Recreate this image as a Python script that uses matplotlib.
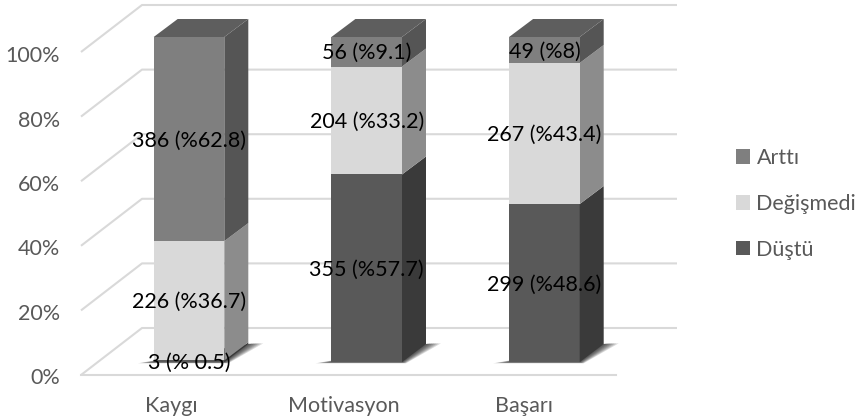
import numpy as np
import matplotlib
matplotlib.use('agg')
import matplotlib.pyplot as plt
from matplotlib.patches import Polygon, Patch

plt.rcParams['font.family'] = ['Lato', 'DejaVu Sans']

categories = ['Kaygı', 'Motivasyon', 'Başarı']
series_names = ['Düştü', 'Değişmedi', 'Arttı']
dustu = [0.5, 57.7, 48.6]
degismedi = [36.7, 33.2, 43.4]
artti = [62.8, 9.1, 8.0]
dustu_labels = ['3 (% 0.5)', '355 (%57.7)', '299 (%48.6)']
degismedi_labels = ['226 (%36.7)', '204 (%33.2)', '267 (%43.4)']
artti_labels = ['386 (%62.8)', '56 (%9.1)', '49 (%8)']
y_ticks = [0, 20, 40, 60, 80, 100]

# front, side and top colour of each series
front = ['#595959', '#d9d9d9', '#7f7f7f']
side = ['#3a3a3a', '#8c8c8c', '#555555']
top = ['#5f5f5f', '#9a9a9a', '#5e5e5e']
text_grey = '#595959'

W, H = 859, 420
x_unit = 177.7   # px between two categories
y_unit = 3.25    # px per percent
x0_px, y0_px = 189.0, 362.0


def px(v):
    return (v - x0_px) / x_unit


fig = plt.figure(figsize=(W / 100, H / 100), dpi=100)
ax = fig.add_axes([0, 0, 1, 1])
ax.set_xlim(px(0), px(W))
ax.set_ylim((y0_px - H) / y_unit, y0_px / y_unit)
ax.set_axis_off()

bar_w = 70.6 / x_unit
dx = 24 / x_unit
dy = 18 / y_unit

# floor and wall, offsets from the bar front plane
floor_y = -13 / y_unit
back_y = 34 / y_unit
grid_c = '#d9d9d9'
lw_grid = 1.5
fs = 15.5

for t in y_ticks:
    k = t * 3.23 / y_unit
    ax.plot([px(81), px(142), px(677)], [floor_y + k, back_y + k, back_y + k],
            color=grid_c, lw=lw_grid, zorder=1, solid_capstyle='butt')
    ax.text(px(60), floor_y + t * 3.215 / y_unit - 3 / y_unit, '%d%%' % t, ha='right', va='center',
            fontsize=fs, color=text_grey)
ax.plot([px(81), px(616)], [floor_y, floor_y], color=grid_c, lw=lw_grid, zorder=1)

# shadow on the floor
for i in range(len(categories)):
    l = i - bar_w / 2
    r = i + bar_w / 2
    for g in np.linspace(0, 1, 8):
        grow = (1 - g)
        pts = [(l - grow * 16 / x_unit, -0.4 * grow), (r + grow * 4 / x_unit, -0.4 * grow),
               (r + dx + grow * 15 / x_unit, dy + 0.2),
               (r + dx, dy)]
        ax.add_patch(Polygon(pts, closed=True, fc='black', ec='none', alpha=0.14, zorder=2))

values = [dustu, degismedi, artti]
labels = [dustu_labels, degismedi_labels, artti_labels]
cat_shift = [-18, -23, -20]
for i in range(len(categories)):
    l = i - bar_w / 2
    r = i + bar_w / 2
    bottom = 0
    for s in range(3):
        v = values[s][i]
        ax.bar(i, v, bottom=bottom, width=bar_w, color=front[s], zorder=3 + s * 0.01)
        b2 = bottom + v
        ax.add_patch(Polygon([(r, bottom), (r + dx, bottom + dy), (r + dx, b2 + dy), (r, b2)],
                             closed=True, fc=side[s], ec='none', zorder=3))
        if s == 2:
            ax.add_patch(Polygon([(l, b2), (l + dx, b2 + dy), (r + dx, b2 + dy), (r, b2)],
                                 closed=True, fc=top[s], ec='none', zorder=3))
        ax.text(i, bottom + v / 2 - 1.5 / y_unit, labels[s][i], ha='center', va='center', fontsize=fs,
                color='black', zorder=5)
        bottom = b2
    ax.text(i + cat_shift[i] / x_unit, -44 / y_unit, categories[i], ha='center', va='center',
            fontsize=fs, color=text_grey)

handles = [Patch(fc=front[s], ec='none', label=series_names[s]) for s in [2, 1, 0]]
leg = ax.legend(handles=handles, loc='center left', bbox_to_anchor=(736 / W, 1 - 204 / H),
                frameon=False, fontsize=fs, labelcolor=text_grey, handlelength=0.65,
                handleheight=0.65, handletextpad=0.3, labelspacing=1.2, borderpad=0,
                borderaxespad=0)

plt.savefig('out.png', dpi=100)
